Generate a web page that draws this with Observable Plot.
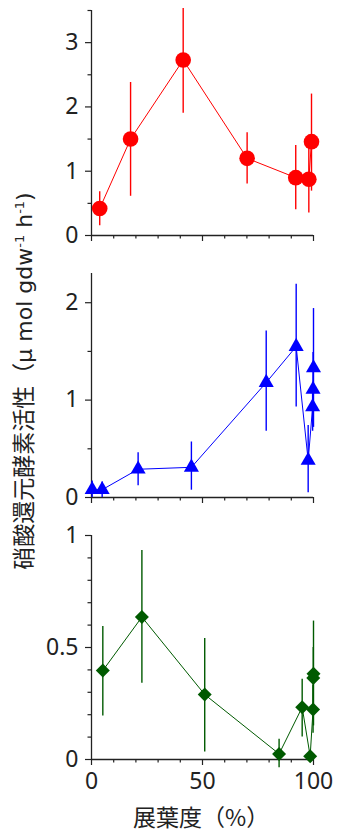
<!DOCTYPE html>
<html><head><meta charset="utf-8">
<script src="https://cdn.jsdelivr.net/npm/d3@7"></script>
<script src="https://cdn.jsdelivr.net/npm/@observablehq/plot@0.6"></script>
<style>
body{margin:0;background:#fff;}
#wrap{position:relative;width:337px;height:832px;overflow:hidden;font-family:"Noto Sans CJK JP","Noto Sans",sans-serif;color:#222;}
.panel{position:absolute;left:0;}
#ylab{position:absolute;left:23px;top:381px;transform:translate(-50%,-50%) rotate(-90deg);white-space:nowrap;font-size:23px;line-height:1;}
#ylab .lat{font-family:"DejaVu Sans",sans-serif;font-size:22px;}
#ylab sup{font-size:13px;vertical-align:0.6em;line-height:0;}
#xlab{position:absolute;left:133px;top:805px;white-space:nowrap;font-size:23px;line-height:1;}
</style></head>
<body>
<div id="wrap">
  <div id="p1" class="panel" style="top:0px"></div>
  <div id="p2" class="panel" style="top:250px"></div>
  <div id="p3" class="panel" style="top:512px"></div>
  <div id="ylab">硝酸還元酵素活性（<span class="lat">μ mol gdw<sup>-1</sup> h<sup>-1</sup>)</span></div>
  <div id="xlab">展葉度（%）</div>
</div>
<script>
// Panel 1 (red circles)
const expansion1 = [3.7, 17.6, 41.3, 70.1, 92.0, 97.9, 99.1];
const activity1  = [0.42, 1.50, 2.73, 1.20, 0.90, 0.875, 1.46];
const lower1     = [0.15, 0.61, 1.90, 0.80, 0.40, 0.35, 0.69];
const upper1     = [0.68, 2.38, 3.53, 1.60, 1.40, 1.40, 2.20];

// Panel 2 (blue triangles)
const expansion2 = [0.3, 4.8, 21.0, 45.0, 78.7, 92.2, 97.6, 99.6, 99.8, 100];
const activity2  = [0.08, 0.08, 0.29, 0.31, 1.18, 1.55, 0.38, 0.93, 1.11, 1.33];
const lower2     = [0.0, 0.0, 0.12, 0.075, 0.68, 0.93, 0.05, 0.68, 0.73, 0.72];
const upper2     = [0.17, 0.16, 0.46, 0.57, 1.71, 2.19, 0.74, 1.18, 1.49, 1.94];

// Panel 3 (green diamonds)
const expansion3 = [5.1, 22.7, 51.0, 84.5, 94.9, 98.5, 99.8, 99.9, 100];
const activity3  = [0.397, 0.636, 0.29, 0.025, 0.233, 0.015, 0.223, 0.364, 0.383];
const lower3     = [0.194, 0.34, 0.034, -0.037, 0.10, 0.0, 0.117, 0.23, 0.15];
const upper3     = [0.594, 0.933, 0.54, 0.09, 0.358, 0.03, 0.33, 0.50, 0.618];

const xMajor = [0, 50, 100];
const xMinor = [10, 20, 30, 40, 60, 70, 80, 90];
const yMajor1 = [0, 1, 2, 3], yMinor1 = [0.5, 1.5, 2.5, 3.5];
const yMajor2 = [0, 1, 2],    yMinor2 = [0.5, 1.5];
const yMajor3 = [0, 0.5, 1],  yMinor3 = [0.1, 0.2, 0.3, 0.4, 0.6, 0.7, 0.8, 0.9];

function panel(o) {
  const data = o.xs.map((x, i) => ({x, y: o.ys[i], lo: o.lo[i], hi: o.hi[i]}));
  const blank = () => "";
  return Plot.plot({
    width: 337, height: o.height,
    marginLeft: 91, marginRight: 24, marginTop: o.marginTop, marginBottom: o.marginBottom,
    style: {fontFamily: "'Noto Sans', sans-serif", fontSize: "23px", color: "#222", background: "transparent", overflow: "visible"},
    x: {domain: [0, 100], axis: null},
    y: {domain: o.yDomain, axis: null},
    marks: [
      Plot.axisY({ticks: o.yMajor, tickSize: 6, tickPadding: 7, tickFormat: o.yFmt, fontSize: 23, label: null, stroke: "#222", strokeWidth: 1.2, color: "#222"}),
      Plot.axisY({ticks: o.yMinor, tickSize: 3.5, tickFormat: blank, label: null, stroke: "#222", strokeWidth: 1.2}),
      Plot.axisX({ticks: xMajor, tickSize: 6, tickPadding: 7, tickFormat: o.xLabels ? (d => String(d)) : blank, fontSize: 23, label: null, stroke: "#222", strokeWidth: 1.2}),
      Plot.axisX({ticks: xMinor, tickSize: 3.5, tickFormat: blank, label: null, stroke: "#222", strokeWidth: 1.2}),
      Plot.ruleX([0], {stroke: "#222", strokeWidth: 1.3}),
      Plot.ruleY([o.yDomain[0]], {stroke: "#222", strokeWidth: 1.3}),
      Plot.line(data, {x: "x", y: "y", stroke: o.color, strokeWidth: 1}),
      Plot.ruleX(data, {x: "x", y1: "lo", y2: "hi", stroke: o.color, strokeWidth: 1.4}),
      Plot.dot(data, {x: "x", y: "y", symbol: o.symbol, r: o.r, fill: o.color, stroke: "none"})
    ]
  });
}

document.getElementById("p1").appendChild(panel({
  xs: expansion1, ys: activity1, lo: lower1, hi: upper1, color: "#ff0000", symbol: "circle", r: 7.8,
  yDomain: [0, 3.5], yMajor: yMajor1, yMinor: yMinor1, yFmt: d => String(d),
  height: 250, marginTop: 10, marginBottom: 15, xLabels: false
}));
document.getElementById("p2").appendChild(panel({
  xs: expansion2, ys: activity2, lo: lower2, hi: upper2, color: "#0000ff", symbol: "triangle", r: 5.6,
  yDomain: [0, 2.3], yMajor: yMajor2, yMinor: yMinor2, yFmt: d => String(d),
  height: 262, marginTop: 23, marginBottom: 15, xLabels: false
}));
document.getElementById("p3").appendChild(panel({
  xs: expansion3, ys: activity3, lo: lower3, hi: upper3, color: "#005a00", symbol: "diamond2", r: 6.3,
  yDomain: [0, 1], yMajor: yMajor3, yMinor: yMinor3, yFmt: d => String(d),
  height: 320, marginTop: 23, marginBottom: 73, xLabels: true
}));
</script>
</body></html>
